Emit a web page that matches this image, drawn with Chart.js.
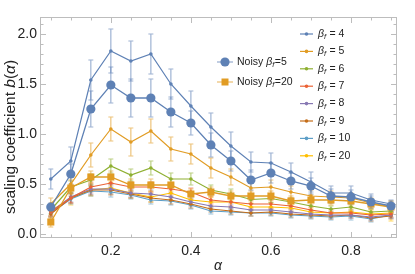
<!DOCTYPE html>
<html><head><meta charset="utf-8">
<script src="https://cdn.jsdelivr.net/npm/chart.js@4.4.0/dist/chart.umd.min.js"></script>
<style>html,body{margin:0;padding:0;background:#fff;}#wrap{width:415px;height:274px;}</style>
</head><body><div id="wrap"><canvas id="c" width="415" height="274"></canvas></div>
<script>
// ---- data ----
const alpha = [0.05,0.1,0.15,0.2,0.25,0.3,0.35,0.4,0.45,0.5,0.55,0.6,0.65,0.7,0.75,0.8,0.85,0.9];
const xTickVals = [0.2,0.4,0.6,0.8];
const yTickVals = [0.0,0.5,1.0,1.5,2.0];

const noisy5  = [0.27,0.60,1.25,1.49,1.36,1.36,1.22,1.11,0.89,0.73,0.54,0.61,0.53,0.48,0.38,0.37,0.32,0.28];
const errNoisy5 = [0.04,0.10,0.18,0.18,0.19,0.19,0.15,0.12,0.12,0.10,0.10,0.10,0.08,0.08,0.07,0.07,0.06,0.05];
const noisy20 = [0.12,0.46,0.57,0.57,0.49,0.49,0.49,0.40,0.42,0.38,0.38,0.38,0.33,0.34,0.34,0.33,0.30,0.27];
const errNoisy20 = [0.05,0.08,0.06,0.06,0.06,0.06,0.06,0.05,0.05,0.05,0.05,0.05,0.05,0.05,0.05,0.05,0.05,0.06];

const b4  = [0.55,0.73,1.54,1.83,1.73,1.80,1.50,1.28,1.07,0.88,0.72,0.71,0.62,0.52,0.41,0.41,0.34,0.30];
const e4  = [0.10,0.14,0.20,0.22,0.20,0.20,0.15,0.15,0.14,0.14,0.10,0.10,0.09,0.10,0.07,0.07,0.06,0.04];
const b5  = [0.30,0.50,0.79,1.05,0.92,1.03,0.85,0.80,0.66,0.57,0.46,0.47,0.42,0.38,0.37,0.36,0.31,0.27];
const e5  = [0.06,0.10,0.12,0.12,0.14,0.12,0.12,0.10,0.10,0.08,0.08,0.07,0.06,0.06,0.06,0.05,0.05,0.05];
const b6  = [0.24,0.47,0.54,0.68,0.59,0.66,0.55,0.55,0.44,0.40,0.345,0.355,0.32,0.28,0.25,0.27,0.22,0.23];
const e6  = [0.04,0.06,0.06,0.07,0.06,0.07,0.06,0.06,0.05,0.05,0.04,0.04,0.04,0.04,0.03,0.03,0.03,0.03];
const b7  = [0.22,0.36,0.47,0.51,0.47,0.47,0.45,0.42,0.34,0.32,0.30,0.30,0.28,0.24,0.21,0.21,0.19,0.20];
const e7  = [0.04,0.05,0.05,0.05,0.05,0.05,0.05,0.04,0.04,0.04,0.04,0.04,0.03,0.03,0.03,0.03,0.03,0.03];
const b8  = [0.22,0.37,0.45,0.45,0.41,0.40,0.37,0.32,0.28,0.27,0.24,0.24,0.22,0.20,0.19,0.19,0.17,0.19];
const e8  = [0.04,0.05,0.05,0.05,0.04,0.04,0.04,0.04,0.04,0.03,0.03,0.03,0.03,0.03,0.03,0.03,0.03,0.03];
const b9  = [0.20,0.36,0.44,0.44,0.40,0.36,0.34,0.30,0.25,0.23,0.21,0.22,0.20,0.19,0.18,0.19,0.16,0.18];
const e9  = [0.04,0.05,0.05,0.05,0.04,0.04,0.04,0.04,0.03,0.03,0.03,0.03,0.03,0.03,0.03,0.03,0.03,0.03];
const b10 = [0.21,0.35,0.43,0.42,0.39,0.34,0.33,0.29,0.23,0.22,0.21,0.21,0.19,0.18,0.17,0.18,0.15,0.19];
const e10 = [0.04,0.05,0.05,0.05,0.04,0.04,0.04,0.04,0.03,0.03,0.03,0.03,0.03,0.03,0.03,0.04,0.03,0.03];
const b20 = [0.23,0.36,0.44,0.46,0.41,0.37,0.41,0.34,0.32,0.32,0.27,0.27,0.26,0.22,0.21,0.22,0.20,0.21];
const e20 = [0.05,0.07,0.06,0.06,0.05,0.05,0.06,0.05,0.05,0.05,0.04,0.04,0.04,0.04,0.04,0.04,0.04,0.08];

const betaLabels = ['4','5','6','7','8','9','10','20'];
const betaValues = [b4,b5,b6,b7,b8,b9,b10,b20];
const betaErrors = [e4,e5,e6,e7,e8,e9,e10,e20];
const betaColors = ['#5E81B5','#E19C24','#8FB032','#EB6235','#8778B3','#C56E1A','#5D9EC7','#FFBF00'];
const noisyLabels = ['5','20'];

// ---- helpers ----
const FONT = '"Liberation Sans", Arial, Helvetica, sans-serif';
function rgba(hex, a){const n=parseInt(hex.slice(1),16);return `rgba(${n>>16},${(n>>8)&255},${n&255},${a})`;}
function pts(vals){return alpha.map((a,i)=>({x:a,y:vals[i]}));}

const datasets = [];
datasets.push({label:'Noisy βf=5', data:pts(noisy5), err:errNoisy5, borderColor:'#5E81B5', backgroundColor:'#5E81B5',
  pointStyle:'circle', pointRadius:4.6, pointBorderWidth:0, borderWidth:1.3});
datasets.push({label:'Noisy βf=20', data:pts(noisy20), err:errNoisy20, borderColor:'#E19C24', backgroundColor:'#E19C24',
  pointStyle:'rect', pointRadius:5, pointBorderWidth:0, borderWidth:1.3});
betaLabels.forEach((l,k)=>{
  datasets.push({label:'βf = '+l, data:pts(betaValues[k]), err:betaErrors[k], borderColor:betaColors[k], backgroundColor:betaColors[k],
    pointStyle:'circle', pointRadius:1.8, pointBorderWidth:0, borderWidth:1.2});
});

const frameColor = '#bdbdbd';

const framePlugin = {
  id:'frame',
  beforeDatasetsDraw(chart){
    const {ctx, chartArea:a, scales:{x,y}} = chart;
    ctx.save();
    ctx.strokeStyle = frameColor; ctx.lineWidth = 1;
    ctx.strokeRect(Math.round(a.left)+0.5, Math.round(a.top)+0.5, Math.round(a.right-a.left)-1, Math.round(a.bottom-a.top)-1);
    ctx.beginPath();
    for(let v=0.05; v<0.92; v+=0.05){
      const vv = Math.round(v*100)/100;
      const major = Math.abs(vv*10 - Math.round(vv*10))<1e-6 && Math.round(vv*10)%2===0;
      const L = major?6:3.5;
      const px = Math.round(x.getPixelForValue(vv))+0.5;
      ctx.moveTo(px,a.bottom); ctx.lineTo(px,a.bottom-L);
      ctx.moveTo(px,a.top); ctx.lineTo(px,a.top+L);
    }
    for(let i=0;i<=21;i++){
      const vv = i/10;
      const major = i%5===0;
      const L = major?6:3.5;
      const py = Math.round(y.getPixelForValue(vv))+0.5;
      ctx.moveTo(a.left,py); ctx.lineTo(a.left+L,py);
      ctx.moveTo(a.right,py); ctx.lineTo(a.right-L,py);
    }
    ctx.stroke();
    // error bars
    for(let i=chart.data.datasets.length-1;i>=0;i--){
      const ds = chart.data.datasets[i];
      const meta = chart.getDatasetMeta(i);
      ctx.strokeStyle = rgba(ds.borderColor,0.6);
      ctx.lineWidth = 1.2;
      ctx.beginPath();
      meta.data.forEach((el,j)=>{
        const v = ds.data[j].y, e = ds.err[j];
        const px = el.x;
        const t = y.getPixelForValue(v+e), b = y.getPixelForValue(v-e);
        ctx.moveTo(px,t); ctx.lineTo(px,b);
        ctx.moveTo(px-2.5,t); ctx.lineTo(px+2.5,t);
        ctx.moveTo(px-2.5,b); ctx.lineTo(px+2.5,b);
      });
      ctx.stroke();
    }
    ctx.restore();
  },
  afterDraw(chart){
    const ctx = chart.ctx;
    ctx.save();
    ctx.fillStyle = '#222';
    // x title
    ctx.font = 'italic 14px '+FONT;
    ctx.textAlign='center'; ctx.textBaseline='middle';
    ctx.fillText('α', 218, 266);
    // y title
    ctx.translate(11, 137);
    ctx.rotate(-Math.PI/2);
    const parts = [['scaling coefficient ','normal'],['b','italic'],['(','normal'],['α','italic'],[')','normal']];
    ctx.textAlign='left';
    const fs = 15.5;
    let w=0; parts.forEach(p=>{ctx.font=p[1]+' '+fs+'px '+FONT; w+=ctx.measureText(p[0]).width;});
    let cx=-w/2;
    parts.forEach(p=>{ctx.font=p[1]+' '+fs+'px '+FONT; ctx.fillText(p[0],cx,0); cx+=ctx.measureText(p[0]).width;});
    ctx.restore();

    // legends
    ctx.save();
    ctx.textBaseline='middle'; ctx.textAlign='left';
    function betaText(x0,y0,suffix){
      ctx.fillStyle='#222';
      ctx.font='italic 10.5px '+FONT; ctx.fillText('β',x0,y0); x0+=ctx.measureText('β').width;
      ctx.font='italic 7.5px '+FONT; ctx.fillText('f',x0,y0+3); x0+=ctx.measureText('f').width+0.5;
      ctx.font='10.5px '+FONT; ctx.fillText(suffix,x0,y0);
    }
    // right legend
    betaLabels.forEach((l,k)=>{
      const yy = 34 + k*17.4;
      ctx.strokeStyle=betaColors[k]; ctx.lineWidth=1.2;
      ctx.beginPath(); ctx.moveTo(300,yy); ctx.lineTo(313,yy); ctx.stroke();
      ctx.fillStyle=betaColors[k]; ctx.beginPath(); ctx.arc(306.5,yy,1.8,0,Math.PI*2); ctx.fill();
      betaText(318,yy,' = '+l);
    });
    // noisy legend
    const ny=[62,82];
    noisyLabels.forEach((l,k)=>{
      const yy=ny[k]; const col = k===0?'#5E81B5':'#E19C24';
      ctx.strokeStyle=rgba(col,0.6); ctx.lineWidth=1.3;
      ctx.beginPath(); ctx.moveTo(217,yy); ctx.lineTo(233,yy); ctx.stroke();
      ctx.fillStyle=col; ctx.beginPath();
      if(k===0){ctx.arc(225,yy,4.6,0,Math.PI*2);} else {ctx.rect(221.5,yy-3.5,7,7);}
      ctx.fill();
      ctx.fillStyle='#222'; ctx.font='10.5px '+FONT;
      let x0=237; ctx.fillText('Noisy ',x0,yy); x0+=ctx.measureText('Noisy ').width;
      ctx.font='italic 10.5px '+FONT; ctx.fillText('β',x0,yy); x0+=ctx.measureText('β').width;
      ctx.font='italic 7.5px '+FONT; ctx.fillText('f',x0,yy+3); x0+=ctx.measureText('f').width+0.5;
      ctx.font='10.5px '+FONT; ctx.fillText('='+l,x0,yy);
    });
    ctx.restore();
  }
};

new Chart(document.getElementById('c'), {
  type:'line',
  data:{datasets},
  options:{
    responsive:false, animation:false, devicePixelRatio:1,
    layout:{padding:{top:17,right:18,left:0,bottom:0}},
    plugins:{legend:{display:false}, tooltip:{enabled:false}},
    elements:{line:{tension:0}},
    scales:{
      x:{type:'linear', min:0.023, max:0.915,
        afterFit:s=>{s.height=36;},
        afterBuildTicks:s=>{s.ticks=xTickVals.map(v=>({value:v}));},
        grid:{display:false, drawTicks:false}, border:{display:false},
        ticks:{padding:5, color:'#222', font:{family:FONT,size:14}, callback:v=>Number(v).toFixed(1), maxRotation:0, autoSkip:false}},
      y:{type:'linear', min:-0.04, max:2.17,
        afterFit:s=>{s.width=40;},
        afterBuildTicks:s=>{s.ticks=yTickVals.map(v=>({value:v}));},
        grid:{display:false, drawTicks:false}, border:{display:false},
        ticks:{padding:3, color:'#222', font:{family:FONT,size:14}, callback:v=>Number(v).toFixed(1), autoSkip:false}}
    }
  },
  plugins:[framePlugin]
});
</script></body></html>
